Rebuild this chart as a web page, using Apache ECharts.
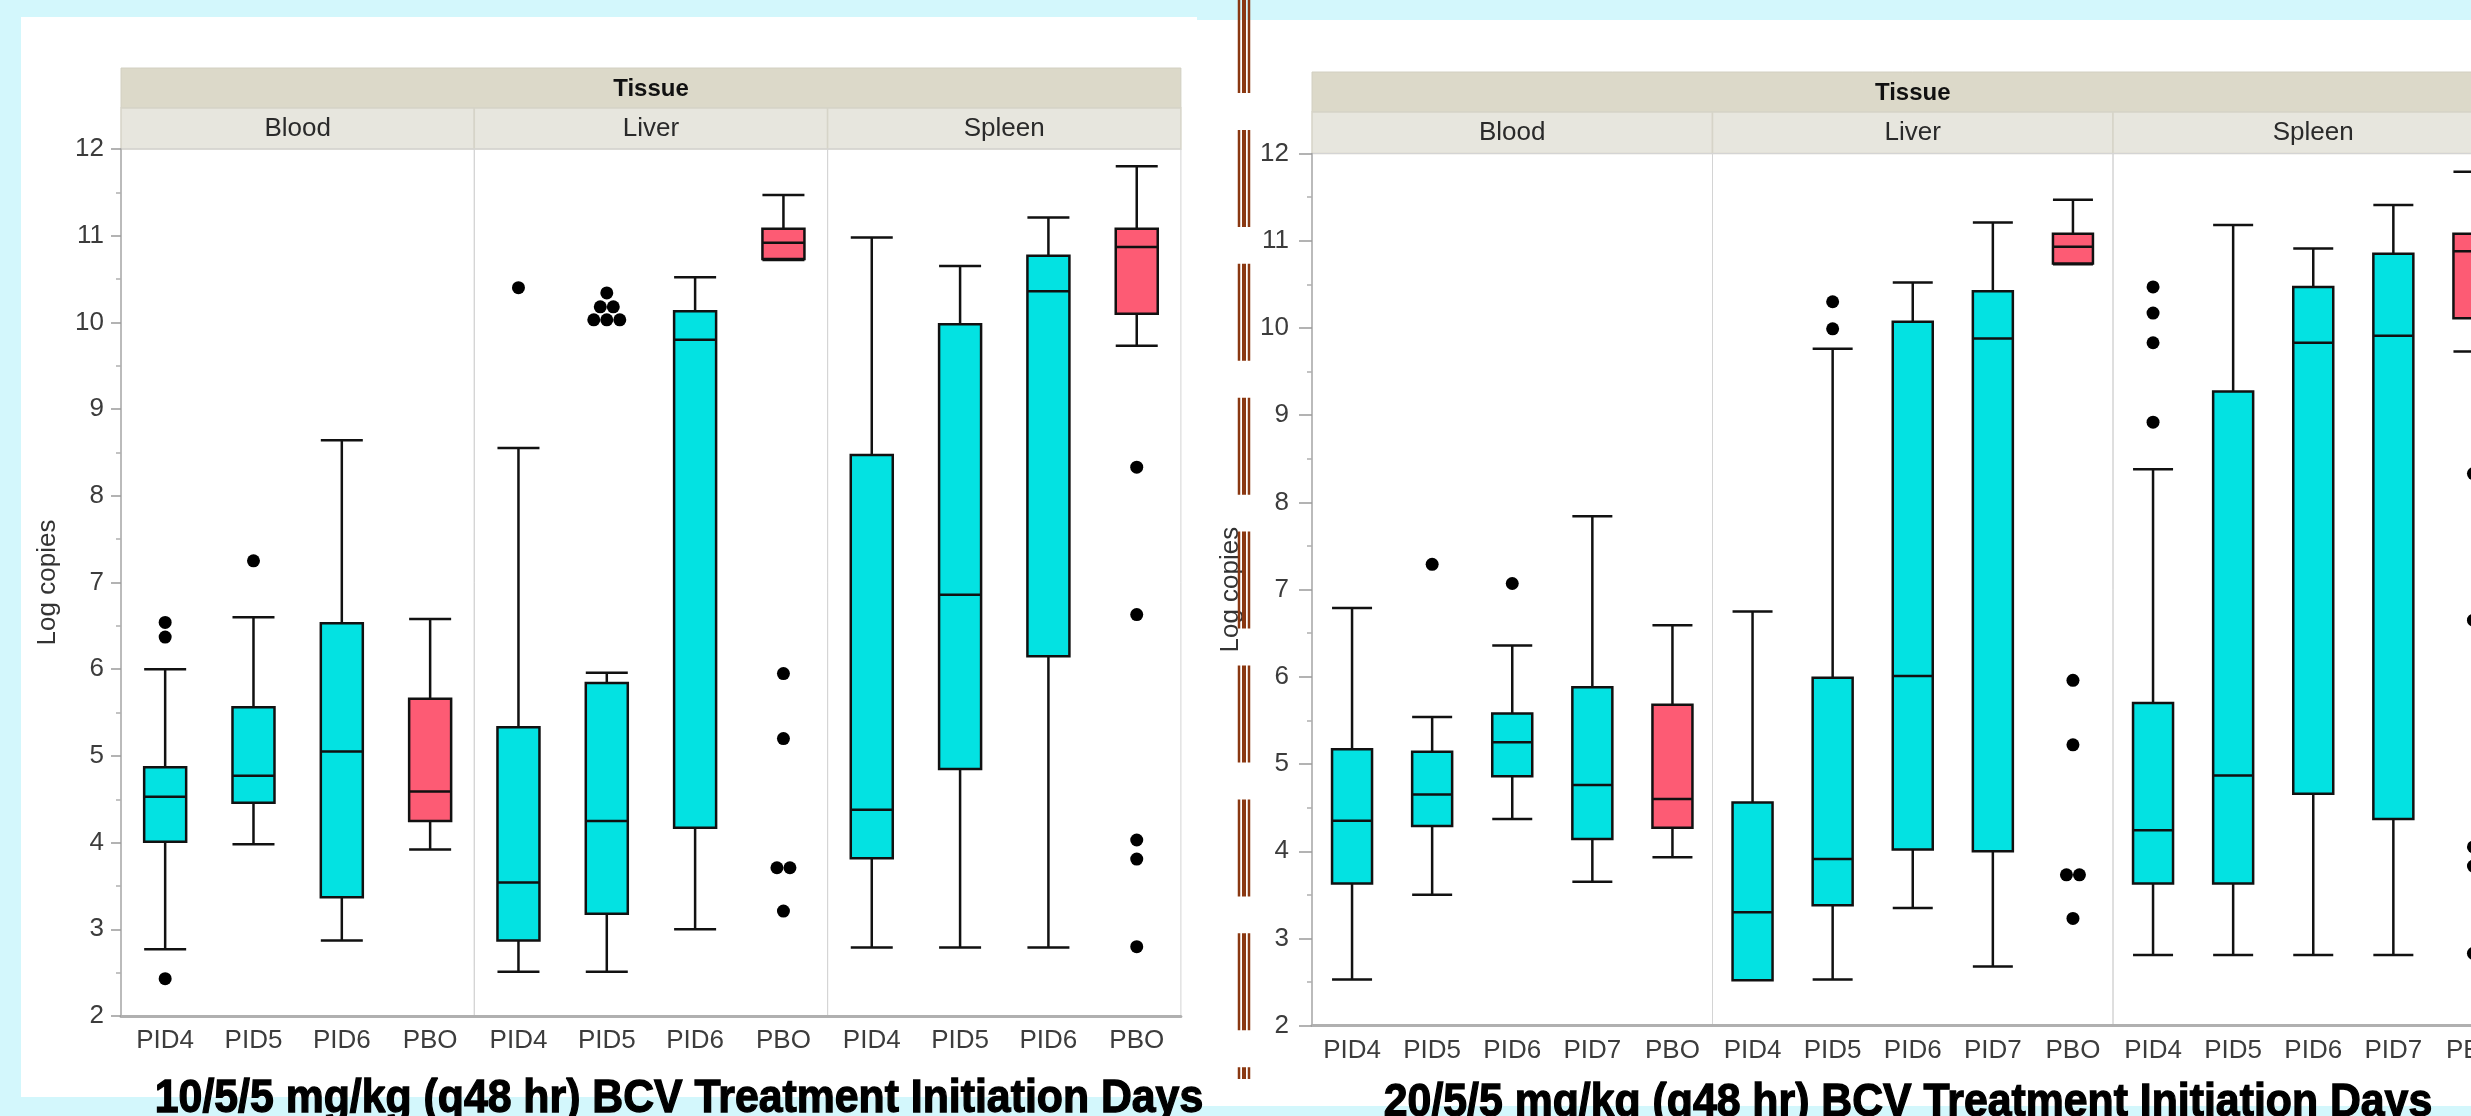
<!DOCTYPE html>
<html>
<head>
<meta charset="utf-8">
<script src="https://cdn.jsdelivr.net/npm/echarts@6/dist/echarts.min.js"></script>
<style>
html,body{margin:0;padding:0;background:#d3f7fc;overflow:hidden;width:2471px;height:1116px;}
#c{width:2600px;height:1116px;}
</style>
</head>
<body>
<div id="c"></div>
<script>
// ---------- DATA ----------
const tissues = ['Blood', 'Liver', 'Spleen'];
const leftCats = ['PID4', 'PID5', 'PID6', 'PBO'];
const rightCats = ['PID4', 'PID5', 'PID6', 'PID7', 'PBO'];
const yMin = 2, yMax = 12, yStep = 1;
const leftTitle = '10/5/5 mg/kg (q48 hr) BCV Treatment Initiation Days';
const rightTitle = '20/5/5 mg/kg (q48 hr) BCV Treatment Initiation Days';
const stripTitle = 'Tissue';
const yName = 'Log copies';

// box stats: [lower whisker, Q1, median, Q3, upper whisker]
const leftBlood  = [[2.77,4.01,4.53,4.87,6.00],[3.98,4.46,4.77,5.56,6.60],[2.87,3.37,5.05,6.53,8.64],[3.92,4.25,4.59,5.66,6.58]];
const leftLiver  = [[2.51,2.87,3.54,5.33,8.55],[2.51,3.18,4.25,5.84,5.96],[3.00,4.17,9.80,10.13,10.52],[10.72,10.73,10.92,11.08,11.47]];
const leftSpleen = [[2.79,3.82,4.38,8.47,10.98],[2.79,4.85,6.86,9.98,10.65],[2.79,6.15,10.36,10.77,11.21],[9.73,10.10,10.87,11.08,11.80]];
const leftBloodOut  = [['PID4',6.54],['PID4',6.37],['PID4',2.43],['PID5',7.25]];
const leftLiverOut  = [['PID4',10.40],['PID5',10.34],['PID5',10.18],['PID5',10.18],['PID5',10.03],['PID5',10.03],['PID5',10.03],
                       ['PBO',5.95],['PBO',5.20],['PBO',3.71],['PBO',3.71],['PBO',3.21]];
const leftSpleenOut = [['PBO',8.33],['PBO',6.63],['PBO',4.03],['PBO',3.81],['PBO',2.80]];

const rightBlood  = [[2.53,3.63,4.35,5.17,6.79],[3.50,4.29,4.65,5.14,5.54],[4.37,4.86,5.25,5.58,6.36],[3.65,4.14,4.76,5.88,7.84],[3.93,4.27,4.60,5.68,6.59]];
const rightLiver  = [[2.52,2.52,3.30,4.56,6.75],[2.53,3.38,3.91,5.99,9.76],[3.35,4.02,6.01,10.07,10.52],[2.68,4.00,9.88,10.42,11.21],[10.73,10.74,10.93,11.08,11.47]];
const rightSpleen = [[2.81,3.63,4.24,5.70,8.38],[2.81,3.63,4.87,9.27,11.18],[2.81,4.66,9.83,10.47,10.91],[2.81,4.37,9.91,10.85,11.41],[9.73,10.11,10.88,11.08,11.79]];
const rightBloodOut  = [['PID5',7.29],['PID6',7.07]];
const rightLiverOut  = [['PID5',10.30],['PID5',9.99],['PBO',5.96],['PBO',5.22],['PBO',3.73],['PBO',3.73],['PBO',3.23]];
const rightSpleenOut = [['PID4',10.47],['PID4',10.17],['PID4',9.83],['PID4',8.92],['PBO',8.33],['PBO',6.65],['PBO',4.05],['PBO',3.83],['PBO',2.83]];

// ---------- STYLE / LAYOUT ----------
const FONT = "'Liberation Sans', Arial, sans-serif";
const CYAN = '#03e2e2', PINK = '#fd5b74';
const DOT = 13;

const charts = [
  {cats: leftCats, boxes: [leftBlood, leftLiver, leftSpleen], outs: [leftBloodOut, leftLiverOut, leftSpleenOut],
   left: 121, panelW: 353.3, top: 149, height: 867, stripTop: 68, title: leftTitle, titleX: 679, titleY: 1099,
   nameGap: 60, boxW: 42, labelMargin: 17, tickLen: 10},
  {cats: rightCats, boxes: [rightBlood, rightLiver, rightSpleen], outs: [rightBloodOut, rightLiverOut, rightSpleenOut],
   left: 1312, panelW: 400.5, top: 153.5, height: 872.2, stripTop: 72, title: rightTitle, titleX: 1908, titleY: 1103,
   nameGap: 68, boxW: 40, labelMargin: 23, tickLen: 13}
];

function jitter(outs, cats) {
  const res = [];
  cats.forEach(c => {
    const pts = outs.filter(o => o[0] === c).map(o => o[1]).sort((a, b) => b - a);
    let i = 0;
    while (i < pts.length) {
      let j = i;
      while (j + 1 < pts.length && pts[i] - pts[j + 1] < 0.08) j++;
      const n = j - i + 1;
      for (let k = i; k <= j; k++) {
        res.push({value: [c, pts[k]], symbolOffset: [(k - i - (n - 1) / 2) * DOT, 0]});
      }
      i = j + 1;
    }
  });
  return res;
}

const grid = [], xAxis = [], yAxis = [], series = [], graphic = [];

// white panels
graphic.push({type: 'rect', shape: {x: 21, y: 17, width: 1176, height: 1080}, style: {fill: '#ffffff'}, z: -100, silent: true});
graphic.push({type: 'rect', shape: {x: 1197, y: 20, width: 1403, height: 1086}, style: {fill: '#ffffff'}, z: -100, silent: true});

charts.forEach((ch, ci) => {
  const totalW = ch.panelW * 3;
  // strips
  graphic.push({type: 'rect', shape: {x: ch.left, y: ch.stripTop, width: totalW, height: 40}, style: {fill: '#dcd9c9', stroke: '#d2d0c2', lineWidth: 1}, z: -50, silent: true});
  graphic.push({type: 'text', x: ch.left + totalW / 2, y: ch.stripTop + 21, style: {text: stripTitle, fill: '#111', font: 'bold 24px ' + FONT, textAlign: 'center', textVerticalAlign: 'middle'}, z: 10, silent: true});
  tissues.forEach((t, ti) => {
    const x0 = ch.left + ti * ch.panelW;
    graphic.push({type: 'rect', shape: {x: x0, y: ch.stripTop + 40, width: ch.panelW, height: ch.top - ch.stripTop - 40}, style: {fill: '#e7e6de', stroke: '#d6d4c8', lineWidth: 1.5}, z: -50, silent: true});
    graphic.push({type: 'text', x: x0 + ch.panelW / 2, y: ch.stripTop + 40 + (ch.top - ch.stripTop - 40) / 2, style: {text: t, fill: '#2a2a2a', font: '26px ' + FONT, textAlign: 'center', textVerticalAlign: 'middle'}, z: 10, silent: true});

    const gi = grid.length;
    grid.push({left: x0, top: ch.top, width: ch.panelW, height: ch.height, show: true, borderColor: '#d4d4d4', borderWidth: 1, backgroundColor: 'transparent'});
    xAxis.push({gridIndex: gi, type: 'category', data: ch.cats, boundaryGap: true,
      axisLine: {show: true, lineStyle: {color: '#b0b0b0', width: 3}},
      axisTick: {show: false},
      axisLabel: {fontSize: 26, color: '#3c3c3c', margin: 12, fontFamily: FONT, interval: 0},
      splitLine: {show: false}});
    const first = ti === 0;
    yAxis.push({gridIndex: gi, type: 'value', min: yMin, max: yMax, interval: yStep,
      axisLine: {show: first, lineStyle: {color: '#ababab', width: 1.5}},
      axisTick: {show: first, length: ch.tickLen, lineStyle: {color: '#9a9a9a', width: 1.5}},
      minorTick: {show: first, splitNumber: 2, length: 5, lineStyle: {color: '#b0b0b0', width: 1.5}},
      axisLabel: {show: first, fontSize: 26, color: '#3c3c3c', margin: ch.labelMargin, fontFamily: FONT},
      splitLine: {show: false}, minorSplitLine: {show: false},
      name: first ? yName : '', nameLocation: 'middle', nameGap: ch.nameGap,
      nameTextStyle: {fontSize: 26, color: '#333', fontFamily: FONT}});
    series.push({type: 'boxplot', xAxisIndex: gi, yAxisIndex: gi, boxWidth: [ch.boxW, ch.boxW],
      data: ch.boxes[ti].map((b, k) => ({value: b, itemStyle: {color: ch.cats[k] === 'PBO' ? PINK : CYAN}})),
      itemStyle: {borderColor: '#111', borderWidth: 2.5}, emphasis: {disabled: true}, silent: true, z: 3});
    series.push({type: 'scatter', xAxisIndex: gi, yAxisIndex: gi, symbol: 'circle', symbolSize: DOT,
      data: jitter(ch.outs[ti], ch.cats), itemStyle: {color: '#000', opacity: 1}, emphasis: {disabled: true}, silent: true, z: 4});
  });
  // title (slightly condensed heavy bold text)
  graphic.push({type: 'text', x: ch.titleX, y: ch.titleY, scaleX: 0.93, style: {text: ch.title, fill: '#000', stroke: '#000', lineWidth: 1.3, font: 'bold 46px ' + FONT, textAlign: 'center', textVerticalAlign: 'middle'}, z: 20, silent: true});
});

// brown divider lines
[[1239, 2.5], [1244, 4], [1249, 2.5]].forEach(([x, w]) => {
  graphic.push({type: 'line', shape: {x1: x, y1: -4, x2: x, y2: 1079}, style: {stroke: '#8a3812', lineWidth: w, lineDash: [97, 36.9]}, z: 100, silent: true});
});

const chart = echarts.init(document.getElementById('c'), null, {renderer: 'canvas'});
chart.setOption({
  backgroundColor: 'transparent',
  animation: false,
  grid, xAxis, yAxis, series, graphic
});
</script>
</body>
</html>
